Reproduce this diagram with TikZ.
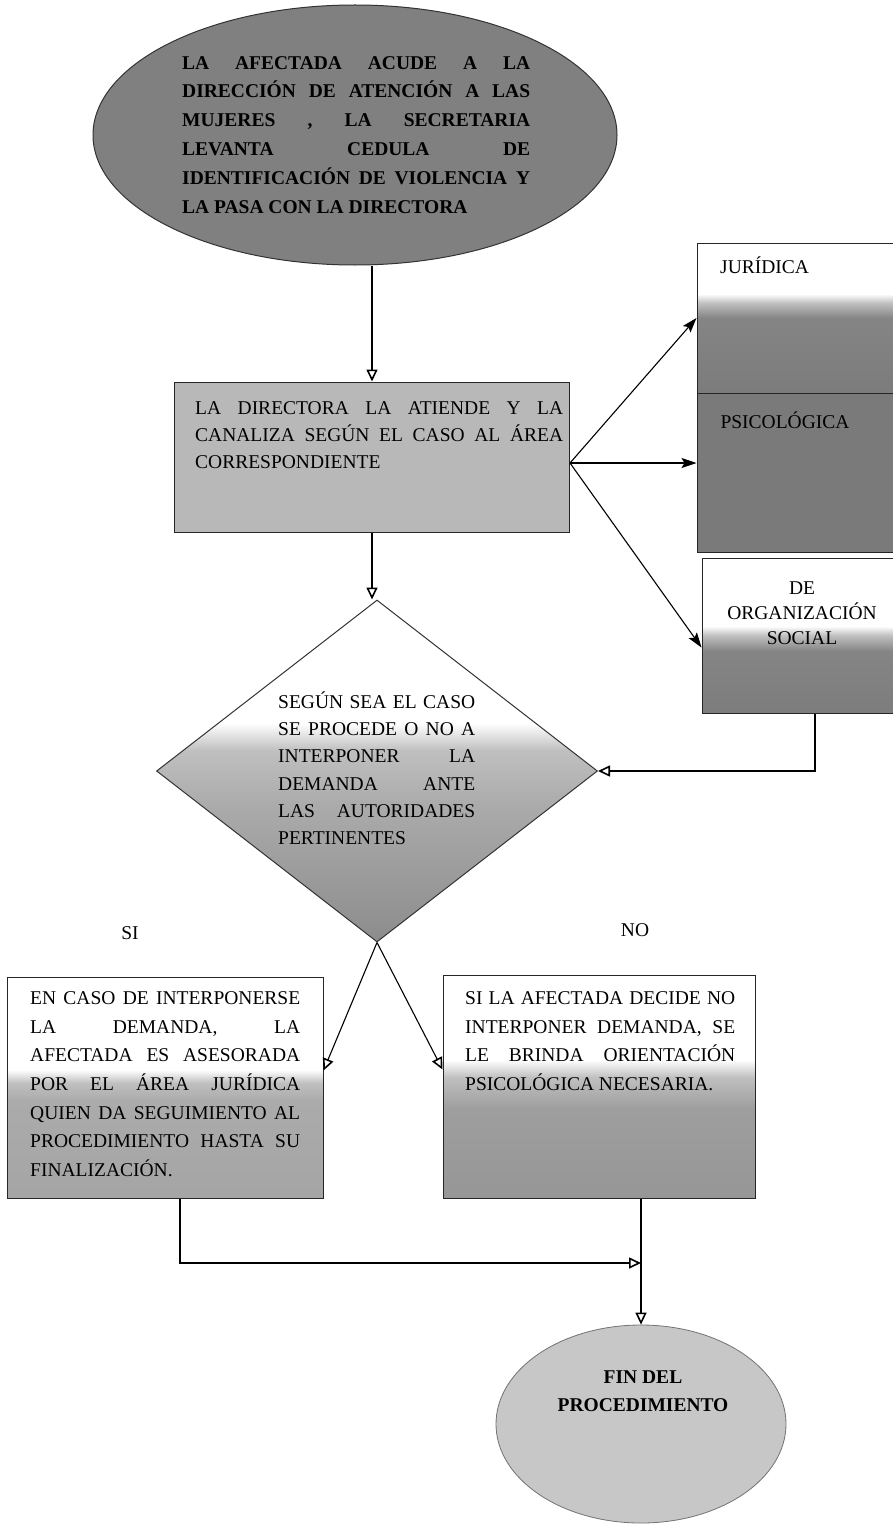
\documentclass[tikz,border=0pt]{standalone}
\usepackage{fontspec}
\setmainfont{Liberation Serif}
\usetikzlibrary{shapes.geometric,arrows.meta}
\hyphenpenalty=10000
\exhyphenpenalty=10000
\colorlet{gA}{black!55}
\colorlet{gB}{black!48}
\colorlet{gC}{black!25}
\colorlet{gD}{black!38}
\colorlet{gE}{black!33}
\colorlet{gF}{black!45}
\colorlet{wh}{white}
\pgfdeclareverticalshading{jurshade}{100bp}{color(0bp)=(gA); color(50bp)=(gB); color(55bp)=(gC); color(58bp)=(wh); color(100bp)=(wh)}
\pgfdeclareverticalshading{orgshade}{100bp}{color(0bp)=(gA); color(45bp)=(gB); color(50bp)=(gC); color(53bp)=(wh); color(100bp)=(wh)}
\pgfdeclareverticalshading{sishade}{100bp}{color(0bp)=(gD); color(47bp)=(gE); color(51bp)=(gC); color(54bp)=(wh); color(100bp)=(wh)}
\pgfdeclareverticalshading{noshade}{100bp}{color(0bp)=(gF); color(45bp)=(gD); color(52bp)=(gC); color(56bp)=(wh); color(100bp)=(wh)}
\pgfdeclareverticalshading{diashade}{100bp}{color(0bp)=(gF); color(25bp)=(gF); color(45bp)=(gE); color(53bp)=(gC); color(57bp)=(wh); color(100bp)=(wh)}
\begin{document}
\begin{tikzpicture}[x=1pt,y=-1pt,
  boxs/.style={draw=black!85, line width=1pt, rectangle, inner sep=0pt},
  bodyfont/.style={font=\fontsize{19.5}{27.5}\selectfont},
  txt/.style={inner sep=0pt, align=justify, anchor=north west},
  conn/.style={line width=1.1pt, -{Triangle[open,length=12pt,width=11pt,line width=1.6pt]}},
  fanarr/.style={line width=1.1pt, -{Stealth[length=15pt,width=10pt,inset=3pt]}}]

\useasboundingbox (0,0) rectangle (893,1525);

% top ellipse
\node[ellipse, draw=black!80, line width=1pt, fill=black!50, minimum width=524pt, minimum height=260pt, inner sep=0pt] (e1) at (355,135) {};
\node[txt, text width=348pt, font=\fontsize{19.5}{28.8}\selectfont\bfseries] (e1t) at (182,56)
 {LA AFECTADA ACUDE A LA\linebreak DIRECCIÓN DE ATENCIÓN A LAS\linebreak MUJERES , LA SECRETARIA\linebreak LEVANTA CEDULA DE\linebreak IDENTIFICACIÓN DE VIOLENCIA Y\linebreak LA PASA CON LA DIRECTORA};

% directora box
\node[boxs, fill=black!28, minimum width=395pt, minimum height=150pt] (box1) at (372,457) {};
\node[txt, text width=368pt, font=\fontsize{19.5}{27}\selectfont] (box1t) at (195,401.5)
 {LA DIRECTORA LA ATIENDE Y LA\linebreak CANALIZA SEGÚN EL CASO AL ÁREA\linebreak CORRESPONDIENTE};

% right boxes
\node[boxs, shade, shading=jurshade, minimum width=197pt, minimum height=150pt] (jur) at (795.5,318) {};
\node[bodyfont, anchor=base west, inner sep=0pt] (jurt) at (720,273.5) {JURÍDICA};
\node[boxs, fill=black!52, minimum width=197pt, minimum height=159pt] (psi) at (795.5,472.5) {};
\node[bodyfont, anchor=base, inner sep=0pt] (psit) at (785,428.5) {PSICOLÓGICA};
\node[boxs, shade, shading=orgshade, minimum width=192pt, minimum height=155pt] (org) at (798,635.5) {};
\node[font=\fontsize{19.5}{25}\selectfont, align=center, anchor=north, inner sep=0pt] (orgt) at (802,581.5) {DE\\ORGANIZACIÓN\\SOCIAL};

% diamond
\node[diamond, draw=black!80, line width=1pt, shade, shading=diashade, minimum width=441pt, minimum height=342pt, aspect=1.29, inner sep=0pt] (dia) at (377,771) {};
\node[txt, text width=197pt, font=\fontsize{19.5}{27.2}\selectfont] (diat) at (278,691.5)
 {SEGÚN SEA EL CASO\linebreak SE PROCEDE O NO A\linebreak INTERPONER LA\linebreak DEMANDA ANTE\linebreak LAS AUTORIDADES\linebreak PERTINENTES};

% labels
\node[bodyfont, anchor=base, inner sep=0pt] (silbl) at (130,939.5) {SI};
\node[bodyfont, anchor=base, inner sep=0pt] (nolbl) at (635,936.5) {NO};

% SI box
\node[boxs, shade, shading=sishade, minimum width=316pt, minimum height=221pt] (si) at (165,1087.5) {};
\node[txt, text width=270pt, font=\fontsize{19.5}{28.6}\selectfont] (sit) at (30,991.5)
 {EN CASO DE INTERPONERSE\linebreak LA DEMANDA, LA\linebreak AFECTADA ES ASESORADA\linebreak POR EL ÁREA JURÍDICA\linebreak QUIEN DA SEGUIMIENTO AL\linebreak PROCEDIMIENTO HASTA SU\linebreak FINALIZACIÓN.};

% NO box
\node[boxs, shade, shading=noshade, minimum width=312pt, minimum height=223pt] (no) at (599,1086.5) {};
\node[txt, text width=270pt, font=\fontsize{19.5}{28.5}\selectfont] (not) at (465,991.5)
 {SI LA AFECTADA DECIDE NO\linebreak INTERPONER DEMANDA, SE\linebreak LE BRINDA ORIENTACIÓN\linebreak PSICOLÓGICA NECESARIA.};

% end ellipse
\node[ellipse, draw=black!55, line width=0.8pt, fill=black!22, minimum width=290pt, minimum height=198pt, inner sep=0pt] (fin) at (641,1424) {};
\node[font=\fontsize{19.5}{28}\selectfont\bfseries, align=center, anchor=north, inner sep=0pt] (fint) at (643,1370.5) {FIN DEL\\PROCEDIMIENTO};

% connectors
\draw[conn] (box1.north |- e1.south) -- (box1.north);
\draw[conn] (box1.south) -- (box1.south |- dia.north);
\coordinate (fan) at ([yshift=-6pt]box1.east);
\draw[fanarr] (fan) -- (jur.west);
\draw[fanarr] (fan) -- (fan -| psi.west);
\draw[fanarr] (fan) -- ([yshift=-12pt]org.west);
\draw[conn] ([xshift=17pt]org.south) |- (dia.east);
\draw[conn] (dia.south) -- ([yshift=17pt]si.east);
\draw[conn] (dia.south) -- ([yshift=17pt]no.west);
\coordinate (jn) at (641,1263);
\draw[conn] ([xshift=15pt]si.south) |- (jn);
\draw[conn] ([xshift=42pt]no.south) -- (fin.north);
\end{tikzpicture}
\end{document}
